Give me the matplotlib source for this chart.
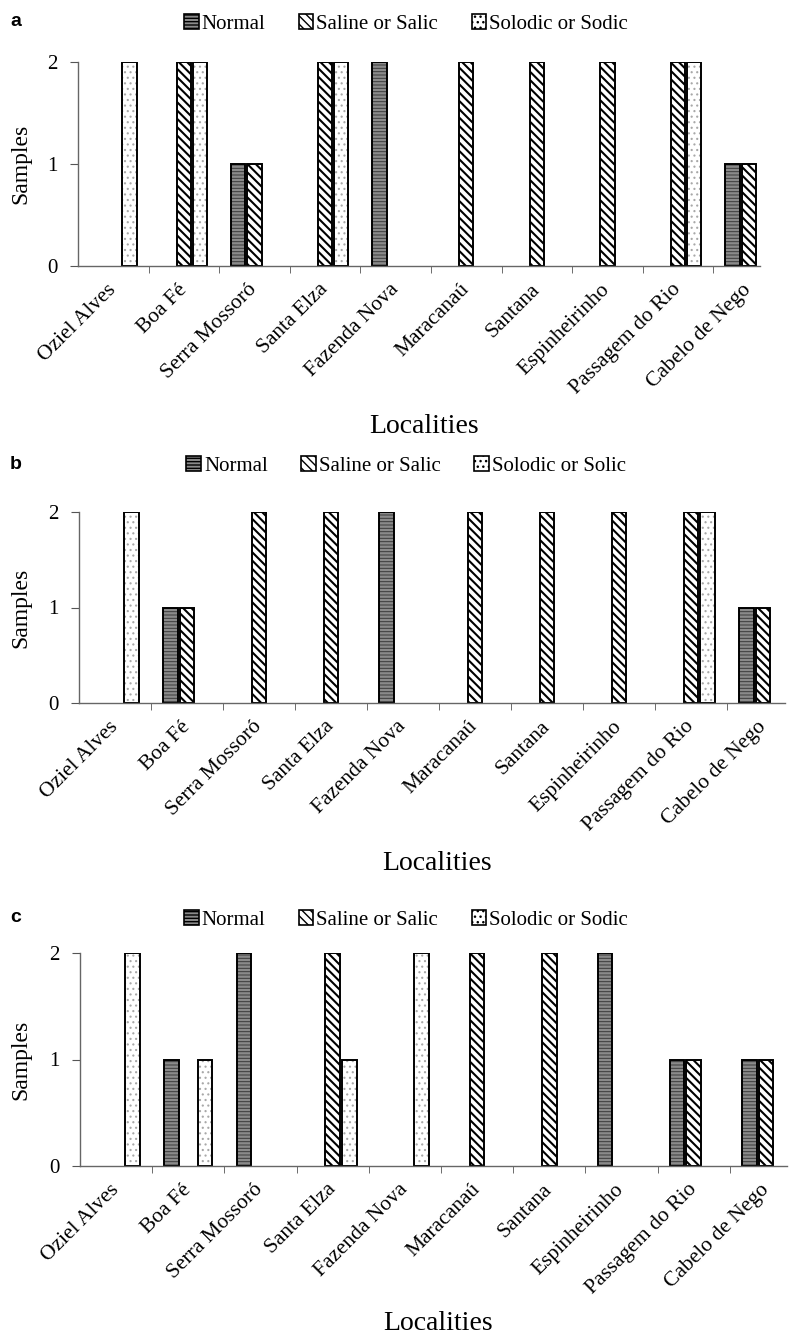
import numpy as np
import matplotlib
matplotlib.use('Agg')
import matplotlib.pyplot as plt
from matplotlib.patches import Patch

localities = ['Oziel Alves', 'Boa Fé', 'Serra Mossoró', 'Santa Elza', 'Fazenda Nova',
              'Maracanaú', 'Santana', 'Espinheirinho', 'Passagem do Rio', 'Cabelo de Nego']

labels_a = ['Normal', 'Saline or Salic', 'Solodic or Sodic']
labels_b = ['Normal', 'Saline or Salic', 'Solodic or Solic']
labels_c = ['Normal', 'Saline or Salic', 'Solodic or Sodic']

normal_a = [0, 0, 1, 0, 2, 0, 0, 0, 0, 1]
saline_a = [0, 2, 1, 2, 0, 2, 2, 2, 2, 1]
solodic_a = [2, 2, 0, 2, 0, 0, 0, 0, 2, 0]

normal_b = [0, 1, 0, 0, 2, 0, 0, 0, 0, 1]
saline_b = [0, 1, 2, 2, 0, 2, 2, 2, 2, 1]
solodic_b = [2, 0, 0, 0, 0, 0, 0, 0, 2, 0]

normal_c = [0, 1, 2, 0, 0, 0, 0, 2, 1, 1]
saline_c = [0, 0, 0, 2, 0, 2, 2, 0, 1, 1]
solodic_c = [2, 1, 0, 1, 2, 0, 0, 0, 0, 0]

panels = [
    ('a', labels_a, [normal_a, saline_a, solodic_a]),
    ('b', labels_b, [normal_b, saline_b, solodic_b]),
    ('c', labels_c, [normal_c, saline_c, solodic_c]),
]

plt.rcParams['font.family'] = 'Liberation Serif'

W, H = 798.0, 1336.0
fig = plt.figure(figsize=(W / 100, H / 100), dpi=100)

# plot area in pixels: left, top, right, bottom ; group spacing
boxes = [(78, 62, 760, 266, 70.6), (79, 512, 785, 703, 72.0), (80, 953, 787, 1166, 72.2)]
legend_y = [24, 466, 920]
xlabel_y = [427, 863, 1323]

# face, hatch, hatch colour, hatch linewidth
styles = [('#8a8a8a', '-----', '#3a3a3a', 0.7),
          ('white', '\\\\\\\\', 'black', 1.5),
          ('white', '...', '#a8a8a8', 0.8)]
offsets = [-0.23, 0.0, 0.23]
width = 0.2

for (letter, leg_labels, series), (l, t, r, b, sp), ly, xy in zip(panels, boxes, legend_y, xlabel_y):
    ax = fig.add_axes([l / W, 1 - b / H, (r - l) / W, (b - t) / H])
    x = np.arange(len(localities))
    for vals, (face, hatch, hc, hlw), off in zip(series, styles, offsets):
        vals = np.array(vals)
        m = vals > 0
        with plt.rc_context({'hatch.linewidth': hlw}):
            ax.bar(x[m] + off, vals[m], width=width, color=face, edgecolor=hc,
                   hatch=hatch, linewidth=0)
        ax.bar(x[m] + off, vals[m], width=width, fill=False, edgecolor='black', linewidth=1.4)

    ax.set_xlim(-0.5, (r - l) / sp - 0.5)
    ax.set_ylim(0, 2)
    ax.set_yticks([0, 1, 2])
    ax.set_xticks(x)
    ax.set_xticklabels(localities, rotation=45, ha='right', va='center',
                       rotation_mode='anchor', fontsize=15.5)
    ax.set_xticks(np.arange(0.5, 9), minor=True)
    ax.tick_params(axis='x', which='major', length=0, pad=15)
    ax.tick_params(axis='x', which='minor', length=5, direction='out', color='#555555')
    ax.tick_params(axis='y', length=6, pad=9, labelsize=15, color='#555555')
    for s in ['top', 'right']:
        ax.spines[s].set_visible(False)
    for s in ['left', 'bottom']:
        ax.spines[s].set_color('#666666')
        ax.spines[s].set_linewidth(1.0)

    handles = [Patch(facecolor=f, edgecolor='black', hatch=h, linewidth=1.2)
               for f, h, _, _ in styles]
    ax.legend(handles, leg_labels, loc='center', bbox_to_anchor=(406 / W, 1 - ly / H),
              bbox_transform=fig.transFigure, ncol=3, frameon=False, fontsize=15,
              handlelength=0.7, handleheight=0.7, handletextpad=0.15,
              columnspacing=1.6, borderaxespad=0)

    fig.text(10 / W, 1 - (ly - 2) / H, letter, family='Liberation Sans',
             fontweight='bold', fontsize=14, ha='left', va='center')
    fig.text(21 / W, 1 - (t + b) / 2 / H, 'Samples', rotation=90, fontsize=17,
             ha='center', va='center')
    fig.text(((l + r) / 2 + 5) / W, 1 - xy / H, 'Localities', fontsize=20,
             ha='center', va='center')

fig.savefig('out.png', dpi=100)
